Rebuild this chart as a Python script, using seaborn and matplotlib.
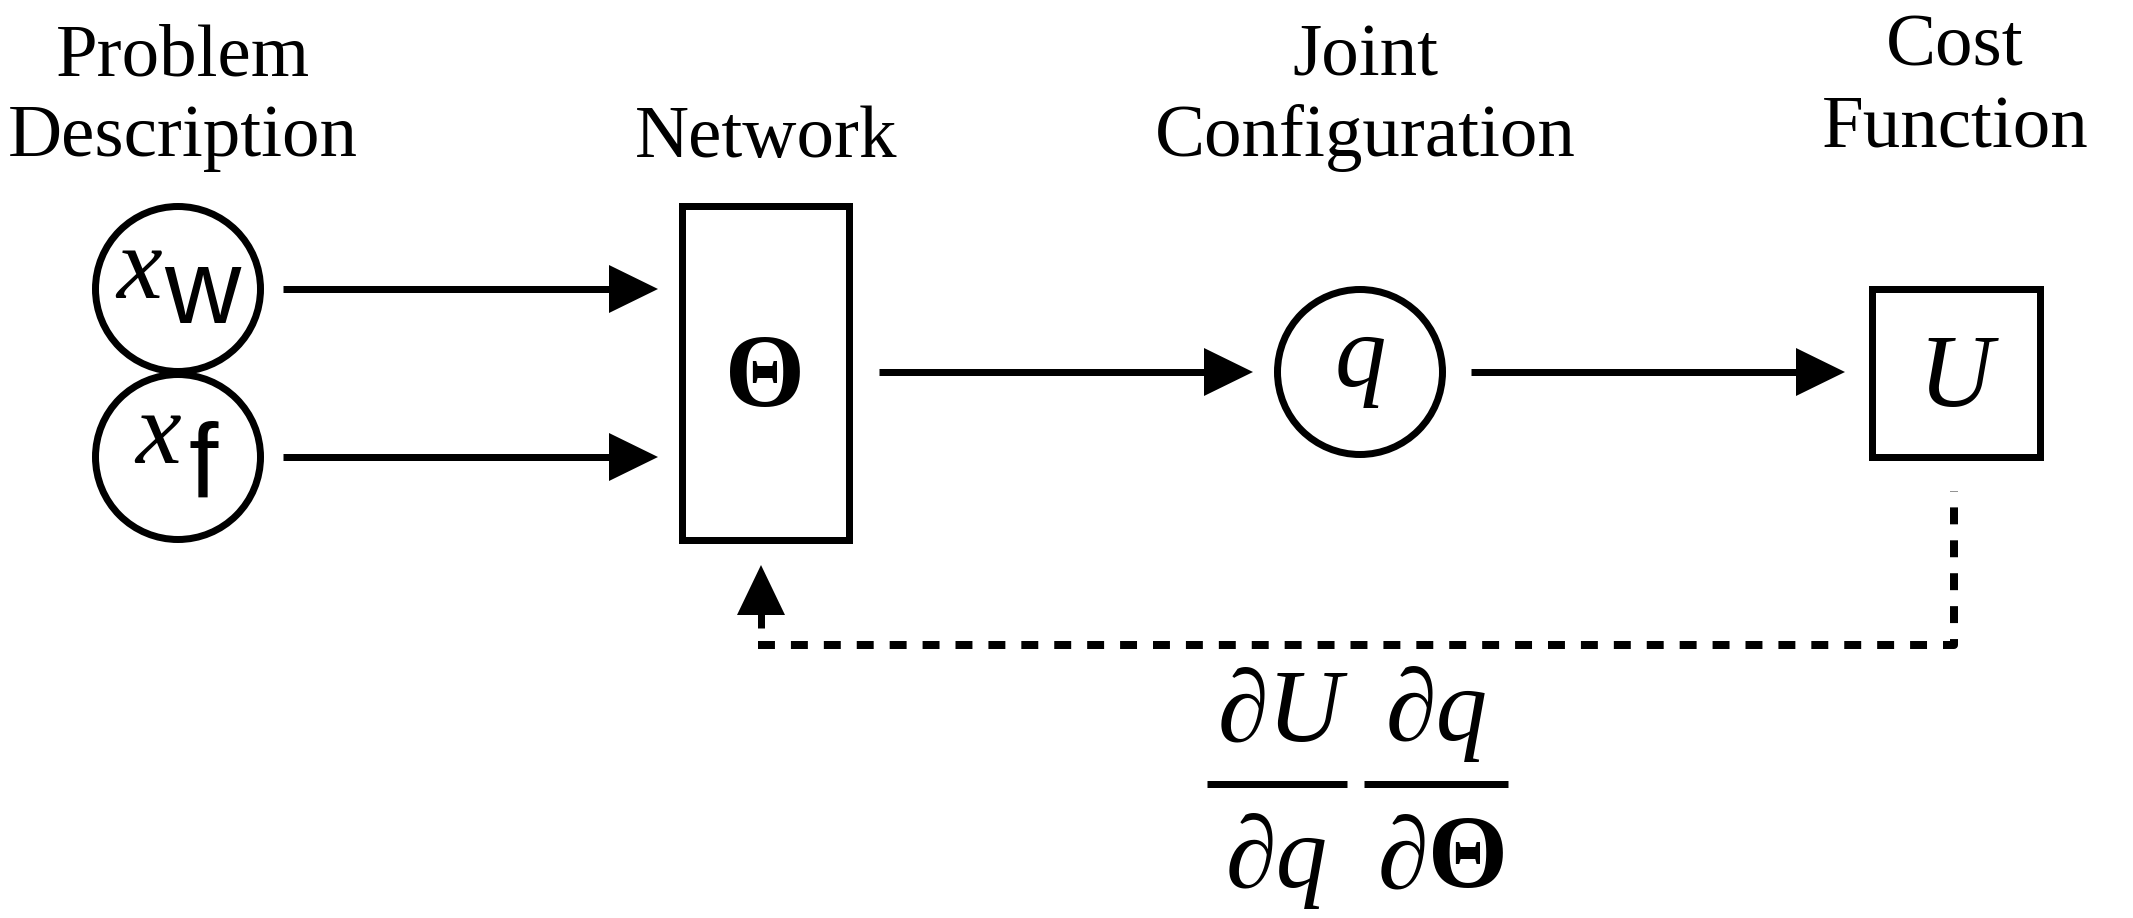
import numpy as np
import matplotlib
matplotlib.use("Agg")
import matplotlib.pyplot as plt
from matplotlib.patches import Circle, Rectangle, Polygon
import seaborn as sns

# column headers (one entry per text line)
HEADER_LINES = ["Problem", "Description", "Network", "Joint", "Configuration", "Cost", "Function"]
HEADER_X = [183, 183, 766, 1365, 1365, 1955, 1955]
HEADER_Y = [75, 156, 157, 76, 156, 66, 148]

# circular nodes: x_w, x_f, q
CIRCLE_X = [178, 178, 1360]
CIRCLE_Y = [289, 457, 372]
CIRCLE_R = 82.5

# box nodes: network Theta, cost U  (x0, y0, width, height)
BOX_X0 = [681.5, 1871.5]
BOX_Y0 = [205.5, 288.5]
BOX_W = [167, 168]
BOX_H = [334, 168]
BOX_LABELS = ["\u0398", "U"]
BOX_STYLE = ["normal", "italic"]

# forward arrows
ARROW_X0 = [283, 283, 879, 1471]
ARROW_X1 = [658, 658, 1253, 1845]
ARROW_Y = [289, 457, 372, 372]

# dashed feedback path (from the network corner to the cost box)
FEEDBACK_X = [757.5, 1954, 1954]
FEEDBACK_Y = [645, 645, 491]

LW = 7 * 72 / 100          # 7 px line width
DASH_LW = 8 * 72 / 100
HEAD_LEN, HEAD_HALF = 49, 24

sns.set_theme(style="white")
plt.rcParams["font.family"] = ["Liberation Serif", "DejaVu Serif"]
plt.rcParams["text.color"] = "black"
plt.rcParams["lines.scale_dashes"] = False

fig = plt.figure(figsize=(21.33, 9.18), dpi=100)
ax = fig.add_axes([0, 0, 1, 1])

# feedback dashed line (drawn with seaborn, in path order)
sns.lineplot(x=FEEDBACK_X, y=FEEDBACK_Y, sort=False, estimator=None, ax=ax,
             color="black", linewidth=DASH_LW, linestyle=(0, (12.2, 11.5)),
             solid_capstyle="butt", dash_capstyle="butt")

ax.set_xlim(0, 2133)
ax.set_ylim(918, 0)
ax.axis("off")

# upward arrowhead + short stem into the network box
ax.plot([761, 761], [612, 628], color="black", lw=LW, solid_capstyle="butt")
ax.add_patch(Polygon([[761, 565], [761 - HEAD_HALF, 615], [761 + HEAD_HALF, 615]],
                     closed=True, color="black", lw=0))

# headers
for txt, x, y in zip(HEADER_LINES, HEADER_X, HEADER_Y):
    ax.text(x, y, txt, ha="center", va="baseline", fontsize=54, color="black")

# circles
for cx, cy in zip(CIRCLE_X, CIRCLE_Y):
    ax.add_patch(Circle((cx, cy), CIRCLE_R, facecolor="white", edgecolor="black", lw=LW))

# boxes
for x0, y0, w, h, lab, st in zip(BOX_X0, BOX_Y0, BOX_W, BOX_H, BOX_LABELS, BOX_STYLE):
    ax.add_patch(Rectangle((x0, y0), w, h, facecolor="white", edgecolor="black", lw=LW,
                           joinstyle="miter"))
    ax.text(x0 + w / 2, 406, lab, ha="center", va="baseline",
            fontsize=74, fontstyle=st, fontweight="bold" if st == "normal" else "normal",
            color="black")

# arrows
for x0, x1, y in zip(ARROW_X0, ARROW_X1, ARROW_Y):
    ax.plot([x0, x1 - HEAD_LEN + 3], [y, y], color="black", lw=LW, solid_capstyle="butt")
    ax.add_patch(Polygon([[x1, y], [x1 - HEAD_LEN, y - HEAD_HALF], [x1 - HEAD_LEN, y + HEAD_HALF]],
                         closed=True, color="black", lw=0))

# node labels: x_w, x_f, q
ax.text(139, 298, "x", ha="center", va="baseline", fontsize=74, fontstyle="italic", color="black")
ax.text(202, 323, "w", ha="center", va="baseline", fontsize=76, family="Liberation Sans", color="black")
ax.text(158, 463, "x", ha="center", va="baseline", fontsize=74, fontstyle="italic", color="black")
ax.text(203, 498, "f", ha="center", va="baseline", fontsize=76, family="Liberation Sans", color="black")
ax.text(1360, 386, "q", ha="center", va="baseline", fontsize=74, fontstyle="italic", color="black")

# gradient fraction
ax.plot([1207, 1347], [784, 784], color="black", lw=LW, solid_capstyle="butt")
ax.plot([1364, 1508], [784, 784], color="black", lw=LW, solid_capstyle="butt")
ax.text(1280, 740, "\u2202U", ha="center", va="baseline", fontsize=74, fontstyle="italic")
ax.text(1437, 740, "\u2202q", ha="center", va="baseline", fontsize=74, fontstyle="italic")
ax.text(1277, 887, "\u2202q", ha="center", va="baseline", fontsize=74, fontstyle="italic")
ax.text(1428, 887, "\u2202", ha="right", va="baseline", fontsize=74, fontstyle="italic")
ax.text(1428, 887, "\u0398", ha="left", va="baseline", fontsize=74, fontweight="bold")

fig.savefig("out.png", dpi=100, facecolor="white")
